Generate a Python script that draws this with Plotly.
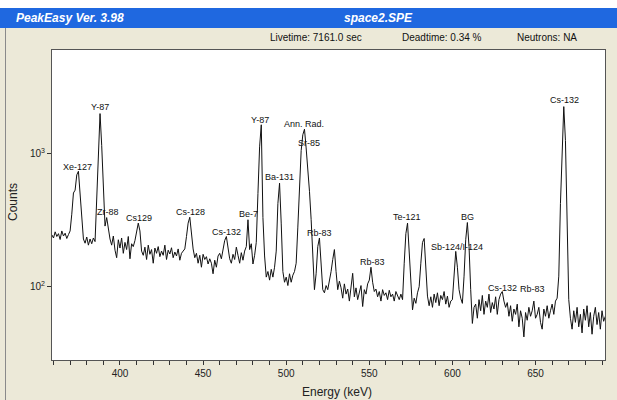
import math
import plotly.graph_objects as go

# gamma spectrum, one value per 1 keV channel starting at 359 keV
E0 = 359
DE = 1.0
counts = [
    245, 232, 258, 238, 250, 226, 262, 240, 252, 230,
    246, 262, 350, 505, 530, 690, 735, 480, 300, 228,
    212, 236, 205, 228, 210, 232, 218, 420, 980, 1990,
    1150, 540, 285, 330, 262, 228, 205, 240, 188, 165,
    225, 195, 232, 178, 215, 190, 238, 162, 210, 200,
    222, 255, 300, 262, 185, 172, 198, 160, 205, 175,
    190, 150, 195, 178, 200, 168, 185, 172, 205, 160,
    188, 176, 196, 165, 182, 170, 192, 158, 178, 185,
    192, 238, 300, 332, 250, 192, 165, 178, 150, 172,
    140, 175, 160, 168, 148, 162, 150, 125, 158, 140,
    170, 178, 162, 195, 222, 238, 195, 162, 150, 175,
    160, 198, 172, 150, 180, 158, 185, 200, 318, 190,
    210, 148, 172, 215, 500, 1120, 1640, 330, 170, 118,
    130, 112, 135, 118, 140, 185, 420, 598, 300, 130,
    108, 118, 102, 125, 108, 122, 130, 150, 280, 560,
    1050, 1380, 1520, 1100, 780, 520, 320, 160, 95, 125,
    200, 232, 150, 95, 90, 102, 95, 110, 130, 160,
    190, 130, 95, 110, 98, 82, 105, 88, 96, 78,
    100, 126, 84, 98, 80, 92, 102, 71, 95, 88,
    105, 112, 140, 108, 92, 96, 84, 92, 78, 95,
    86, 90, 80, 94, 84, 88, 78, 92, 85, 80,
    88, 80, 150, 250, 300, 175, 95, 67, 82, 75,
    90, 100, 150, 215, 230, 130, 85, 72, 84, 70,
    88, 76, 90, 72, 86, 80, 92, 74, 85, 70,
    78, 80, 135, 184, 140, 95, 82, 75, 120, 225,
    303, 200, 95, 53, 70, 74, 58, 80, 66, 86,
    62, 78, 70, 88, 64, 76, 68, 84, 62, 80,
    88, 92, 78, 70, 76, 60, 72, 55, 68, 62,
    74, 50, 66, 58, 42, 64, 56, 70, 60, 66,
    78, 58, 62, 70, 54, 48, 68, 60, 72, 58,
    66, 74, 62, 78, 82, 120, 420, 1050, 2245, 1250,
    250, 80, 58, 48, 66, 54, 70, 50, 62, 45,
    68, 56, 72, 50, 64, 44, 60, 70, 52, 64,
    48, 66, 55, 60,
]

# peak identifications: text, energy (keV), counts where the label sits
peak_names = ["Xe-127", "Y-87", "Zr-88", "Cs129", "Cs-128", "Cs-132", "Be-7",
              "Y-87", "Ann. Rad.", "Sr-85", "Ba-131", "Rb-83", "Rb-83",
              "Te-121", "Sb-124/I-124", "BG", "Cs-132", "Rb-83", "Cs-132"]
peak_energy = [374.3, 388.0, 392.5, 411.4, 442.4, 464.2, 477.2,
               484.4, 510.7, 513.7, 495.8, 519.9, 551.8,
               572.5, 602.5, 609.0, 630.3, 648.3, 667.3]
label_counts = [796, 2224, 362, 327, 362, 259, 352,
                1782, 1663, 1199, 662, 255, 154,
                332, 200, 336, 97.5, 95.7, 2518]

title_left = "PeakEasy Ver. 3.98"
title_file = "space2.SPE"
info = ["Livetime: 7161.0 sec", "Deadtime: 0.34 %", "Neutrons: NA"]

W, H = 617, 400
L, R, T, B = 52, 605, 50, 360
FONT = "Liberation Sans, Arial, sans-serif"


def px(x):
    return (x - L) / (R - L)


def py(y):
    return (B - y) / (B - T)


fig = go.Figure()
fig.add_trace(go.Scatter(x0=E0, dx=DE, y=counts, mode="lines",
                         line=dict(color="#111111", width=1), hoverinfo="skip"))

for name, e, c in zip(peak_names, peak_energy, label_counts):
    fig.add_annotation(x=e, y=math.log10(c), text=name, showarrow=False,
                       font=dict(family=FONT, size=9, color="#111111"),
                       xanchor="center", yanchor="middle")

# window chrome
fig.add_shape(type="rect", xref="paper", yref="paper", x0=px(0), x1=px(W),
              y0=py(8), y1=py(0), fillcolor="white", line_width=0, layer="below")
fig.add_shape(type="rect", xref="paper", yref="paper", x0=px(0), x1=px(W),
              y0=py(28), y1=py(8), fillcolor="#1F68E0", line_width=0, layer="below")
fig.add_shape(type="line", xref="paper", yref="paper", x0=px(5.5), x1=px(5.5),
              y0=py(H), y1=py(28), line=dict(color="#8a8a8a", width=1))

fig.add_annotation(xref="paper", yref="paper", x=px(14), y=py(18), text="<b><i>" + title_left + "</i></b>",
                   showarrow=False, xanchor="left", yanchor="middle",
                   font=dict(family=FONT, size=12, color="white"))
fig.add_annotation(xref="paper", yref="paper", x=px(378), y=py(18), text="<b><i>" + title_file + "</i></b>",
                   showarrow=False, xanchor="center", yanchor="middle",
                   font=dict(family=FONT, size=12, color="white"))
for txt, cx in zip(info, [316, 442, 547]):
    fig.add_annotation(xref="paper", yref="paper", x=px(cx), y=py(38), text=txt,
                       showarrow=False, xanchor="center", yanchor="middle",
                       font=dict(family=FONT, size=10, color="#111111"))

fig.add_annotation(xref="paper", yref="paper", x=px(337), y=py(392), text="Energy (keV)",
                   showarrow=False, xanchor="center", yanchor="middle",
                   font=dict(family=FONT, size=12, color="#222222"))
fig.add_annotation(xref="paper", yref="paper", x=px(13), y=py(202), text="Counts", textangle=-90,
                   showarrow=False, xanchor="center", yanchor="middle",
                   font=dict(family=FONT, size=12, color="#222222"))

fig.update_layout(
    width=W, height=H, autosize=False,
    margin=dict(l=L, r=W - R, t=T, b=H - B),
    paper_bgcolor="#ECE9D8", plot_bgcolor="white",
    showlegend=False,
    font=dict(family=FONT, size=10, color="#222222"),
)
fig.update_xaxes(range=[359.1, 691.8], showgrid=False, zeroline=False,
                 showline=True, mirror=True, linecolor="#555555", linewidth=1,
                 tick0=0, dtick=50, ticks="outside", ticklen=4, tickcolor="#333333",
                 minor=dict(dtick=10, ticks="outside", ticklen=4, tickcolor="#333333"))
fig.update_yaxes(type="log", range=[1.45, 3.776], showgrid=False, zeroline=False,
                 showline=True, mirror=True, linecolor="#555555", linewidth=1,
                 tickvals=[100, 1000], ticktext=["10<sup>2</sup>", "10<sup>3</sup>"],
                 ticks="outside", ticklen=4, tickcolor="#333333")

# the page's default body margin would shift the figure by 8px
fig.write_html("out.html", config={"displayModeBar": False},
               post_script="document.body.style.margin='0';")
